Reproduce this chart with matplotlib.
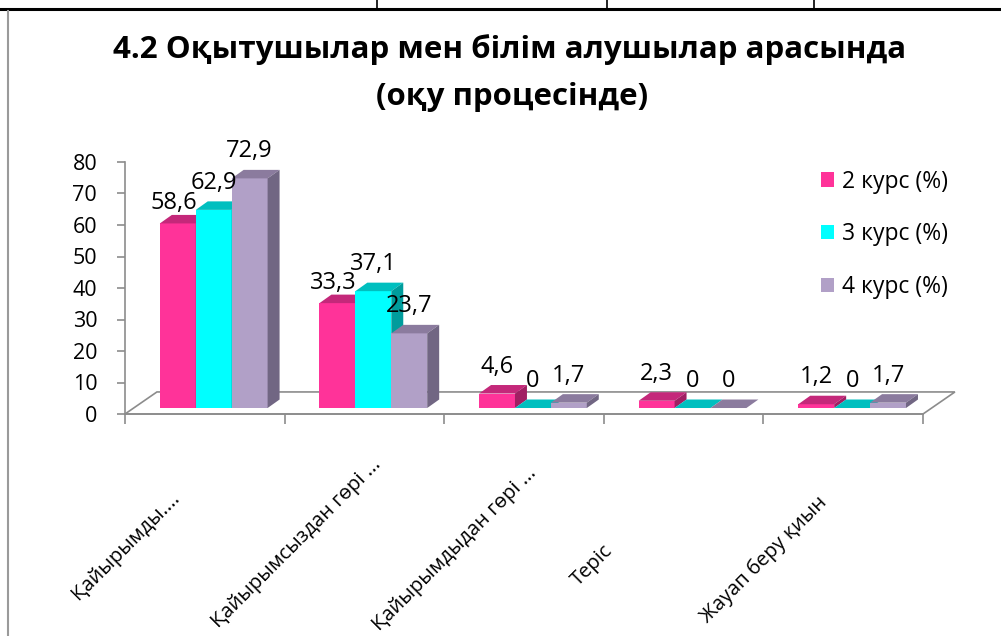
import numpy as np
import matplotlib
matplotlib.use("Agg")
import matplotlib.pyplot as plt
from matplotlib.patches import Polygon, Patch

plt.rcParams['font.family'] = ['Open Sans', 'DejaVu Sans']

categories = ["Қайырымды....", "Қайырымсыздан гөрі ...", "Қайырымдыдан гөрі ...",
              "Теріс", "Жауап беру қиын"]
series = ["2 курс (%)", "3 курс (%)", "4 курс (%)"]
kurs2 = [58.6, 33.3, 4.6, 2.3, 1.2]
kurs3 = [62.9, 37.1, 0, 0, 0]
kurs4 = [72.9, 23.7, 1.7, 0, 1.7]
value_labels = [["58,6", "33,3", "4,6", "2,3", "1,2"],
                ["62,9", "37,1", "0", "0", "0"],
                ["72,9", "23,7", "1,7", "0", "1,7"]]

front = ["#FF3399", "#00FFFF", "#B1A0C7"]
top_c = ["#C4287A", "#00BFBF", "#8B7B9E"]
side_c = ["#A01F63", "#009C9C", "#716683"]
grey = "#8C8C8C"

fig = plt.figure(figsize=(10.01, 6.36), dpi=100)
ax = fig.add_axes([125 / 1001, 1 - 414 / 636, 798 / 1001, 252 / 636])
ax.set_xlim(-0.5, 4.5)
ax.set_ylim(0, 80)

# fake 3d geometry (data units)
fdx, fdy = 0.2, 7.0       # floor depth
lx, ly = 0.056, 1.9       # bar lift into the floor
ddx, ddy = 0.075, 2.7     # bar depth
w = 0.225

floor = Polygon([(-0.5, 0), (-0.5 + fdx, fdy), (4.5 + fdx, fdy), (4.5, 0)],
                closed=True, facecolor="white", edgecolor=grey, lw=1.2, clip_on=False, zorder=1)
ax.add_patch(floor)

data = [kurs2, kurs3, kurs4]
x = np.arange(len(categories))
for i in x:
    for j, vals in enumerate(data):
        v = vals[i]
        x0 = i + lx + (j - 1.5) * w
        ax.bar(x0, v, width=w, bottom=ly, align="edge", color=front[j], zorder=2 + i * 3 + j,
               clip_on=False)
        t = ly + v
        ax.add_patch(Polygon([(x0, t), (x0 + ddx, t + ddy), (x0 + w + ddx, t + ddy), (x0 + w, t)],
                             closed=True, facecolor=top_c[j], edgecolor="none",
                             zorder=2 + i * 3 + j, clip_on=False))
        ax.add_patch(Polygon([(x0 + w, ly), (x0 + w + ddx, ly + ddy), (x0 + w + ddx, t + ddy), (x0 + w, t)],
                             closed=True, facecolor=side_c[j], edgecolor="none",
                             zorder=2 + i * 3 + j, clip_on=False))
        # tall pink bars get their labels a little lower, like the original
        dy, dx = (8, -4) if (j == 0 and v > 10) else (15, 0)
        ax.annotate(value_labels[j][i], (x0 + w / 2, t), xytext=(dx, dy), textcoords="offset pixels",
                    ha="center", va="bottom", fontsize=17, zorder=50)

for s in ["top", "right"]:
    ax.spines[s].set_visible(False)
for s in ["left", "bottom"]:
    ax.spines[s].set_color(grey)
    ax.spines[s].set_linewidth(1.2)
ax.set_yticks(np.arange(0, 81, 10))
ax.tick_params(axis="y", labelsize=15.5, color=grey, length=6, width=1.2, pad=14)
ax.set_xticks(np.arange(-0.5, 4.6, 1))
ax.set_xticklabels([])
ax.tick_params(axis="x", color=grey, length=7, width=1.2)

# rotated category labels
offs = [(-28, -81), (14, -48), (10, -56), (-74, -134), (-19, -86)]
for i, (lab, (ox, oy)) in enumerate(zip(categories, offs)):
    ax.annotate(lab, (i, 0), xytext=(ox, oy), textcoords="offset pixels",
                ha="right", va="center", rotation=45, rotation_mode="anchor",
                fontsize=14.5, annotation_clip=False)

handles = [Patch(facecolor=front[j], edgecolor="none") for j in range(3)]
fig.legend(handles, series, loc="upper left", bbox_to_anchor=(800 / 1001, 1 - 149 / 636),
           frameon=False, fontsize=16.5, labelspacing=1.25, handlelength=0.6, handleheight=0.6,
           handletextpad=0.35)

fig.text(510 / 1001, 1 - 50 / 636, "4.2 Оқытушылар мен білім алушылар арасында",
         ha="center", va="center", fontsize=22.5, fontweight="bold")
fig.text(512 / 1001, 1 - 97 / 636, "(оқу процесінде)",
         ha="center", va="center", fontsize=22.5, fontweight="bold")

# page frame lines
fig.add_artist(plt.Line2D([0, 1], [1 - 9 / 636, 1 - 9 / 636], color="black", lw=2.2))
fig.add_artist(plt.Line2D([7.5 / 1001, 7.5 / 1001], [0, 1 - 11 / 636], color="#9A9A9A", lw=1.5))
for xc in [377, 607, 814]:
    fig.add_artist(plt.Line2D([xc / 1001, xc / 1001], [1 - 9 / 636, 1], color="black", lw=1.2))

fig.savefig("out.png", dpi=100)
